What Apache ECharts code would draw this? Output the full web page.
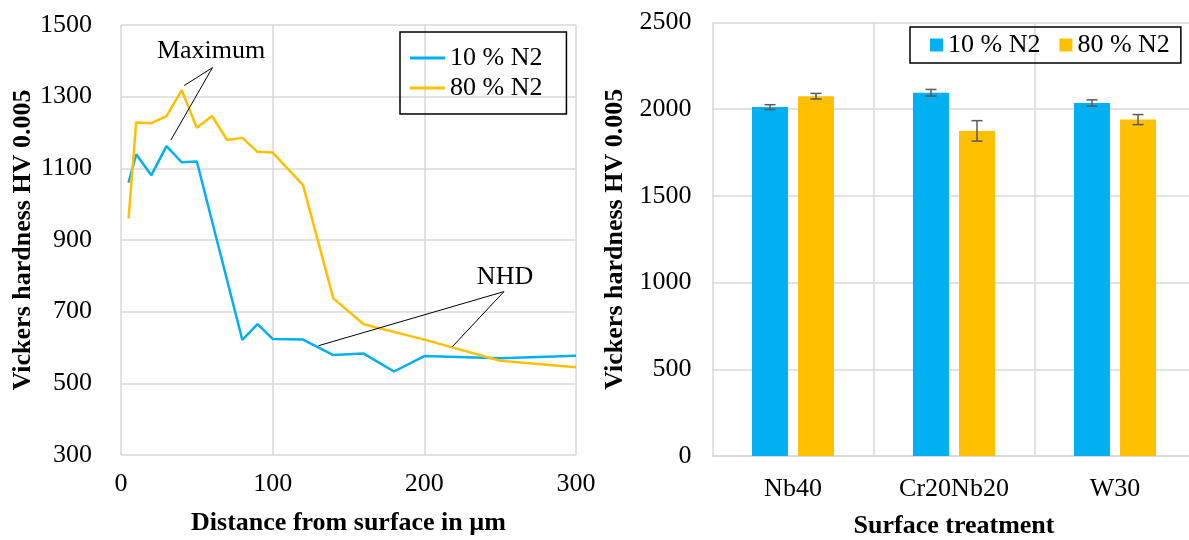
<!DOCTYPE html>
<html>
<head>
<meta charset="utf-8">
<script src="https://cdn.jsdelivr.net/npm/echarts@6/dist/echarts.min.js"></script>
<style>
  html, body { margin: 0; padding: 0; background: #fff; }
  #box { width: 1189px; height: 540px; }
</style>
</head>
<body>
<div id="box"></div>
<script>
// depth profile (left)
const blueDepth = [5, 10, 20, 30, 40, 50, 80, 90, 100, 120, 140, 160, 180, 200, 250, 300];
const blueHV = [1060, 1139, 1081, 1162, 1117, 1119, 621, 665, 624, 622, 579, 583, 533, 576, 570, 577];
const orangeDepth = [5, 10, 20, 30, 40, 50, 60, 70, 80, 90, 100, 120, 140, 160, 200, 250, 300];
const orangeHV = [960, 1228, 1226, 1246, 1318, 1213, 1246, 1179, 1185, 1146, 1144, 1053, 737, 665, 622, 563, 545];

// annotations (data coordinates)
const maxLabel = [59.4, 1426];
const maxLines = [[[60.3, 1381], [41.7, 1331]], [[60.3, 1381], [32.9, 1179]]];
const nhdLabel = [253.2, 795];
const nhdLines = [[[252.5, 756], [130.2, 605]], [[252.5, 756], [218.4, 602]]];

// surface treatment (right)
const treatments = ['Nb40', 'Cr20Nb20', 'W30'];
const hv10 = [2012, 2095, 2036];
const err10 = [14, 19, 18];
const hv80 = [2075, 1875, 1940];
const err80 = [16, 59, 29];

const seriesNames = ['10 % N2', '80 % N2'];

const BLUE = '#00B0F0';
const ORANGE = '#FFC000';
const GRID = '#d9d9d9';
const FONT = 'Liberation Serif';

const myChart = echarts.init(document.getElementById('box'));

const toPairs = (xs, ys) => xs.map((x, i) => [x, ys[i]]);
const lineSeg = (segs) => segs.map(s => [{ coord: s[0] }, { coord: s[1] }]);

const errorSeries = (vals, errs, offset) => ({
    type: 'custom',
    xAxisIndex: 1,
    yAxisIndex: 1,
    z: 5,
    silent: true,
    data: vals.map((v, i) => [i, v, errs[i]]),
    renderItem: function (params, api) {
        const i = api.value(0);
        const v = api.value(1);
        const e = api.value(2);
        const hi = api.coord([i, v + e]);
        const lo = api.coord([i, v - e]);
        const x = hi[0] + offset;
        const st = { stroke: '#595959', lineWidth: 1.5 };
        return {
            type: 'group',
            children: [
                { type: 'line', shape: { x1: x, y1: hi[1], x2: x, y2: lo[1] }, style: st },
                { type: 'line', shape: { x1: x - 5.5, y1: hi[1], x2: x + 5.5, y2: hi[1] }, style: st },
                { type: 'line', shape: { x1: x - 5.5, y1: lo[1], x2: x + 5.5, y2: lo[1] }, style: st }
            ]
        };
    }
});

const axisName = { fontFamily: FONT, fontSize: 26, fontWeight: 'bold', color: '#000' };
const tickText = { fontFamily: FONT, fontSize: 26, color: '#000' };
const plain = (v) => String(v);
const noteLabel = { show: true, position: 'inside', formatter: '{b}', fontFamily: FONT, fontSize: 26, color: '#000' };

const option = {
    animation: false,
    grid: [
        { left: 121, top: 25, width: 455, height: 430, outerBoundsMode: 'none', containLabel: false },
        { left: 712.5, top: 22.5, width: 483, height: 433.5, outerBoundsMode: 'none', containLabel: false }
    ],
    legend: [
        {
            data: seriesNames,
            orient: 'vertical',
            left: 400,
            top: 32,
            padding: [11, 24, 11, 10],
            itemGap: 0,
            itemWidth: 35,
            itemHeight: 3,
            itemTextGap: 12,
            icon: 'rect',
            borderColor: '#000',
            borderWidth: 1.5,
            selectedMode: false,
            textStyle: { fontFamily: FONT, fontSize: 26, lineHeight: 30, color: '#000' }
        },
        {
            data: seriesNames,
            orient: 'horizontal',
            left: 910,
            top: 27,
            padding: [5, 11, 5, 20],
            itemGap: 19,
            itemWidth: 13,
            itemHeight: 13,
            itemTextGap: 8,
            icon: 'rect',
            borderColor: '#000',
            borderWidth: 1.5,
            selectedMode: false,
            textStyle: { fontFamily: FONT, fontSize: 26, lineHeight: 26, color: '#000' }
        }
    ],
    xAxis: [
        {
            type: 'value',
            gridIndex: 0,
            min: 0,
            max: 300,
            interval: 100,
            name: 'Distance from surface in µm',
            nameLocation: 'middle',
            nameGap: 55,
            nameTextStyle: axisName,
            axisLine: { show: false },
            axisTick: { show: false },
            axisLabel: Object.assign({ margin: 16, formatter: plain }, tickText),
            splitLine: { show: true, lineStyle: { color: GRID, width: 1.5 } }
        },
        {
            type: 'category',
            gridIndex: 1,
            data: treatments,
            name: 'Surface treatment',
            nameLocation: 'middle',
            nameGap: 57,
            nameTextStyle: axisName,
            axisLine: { show: true, lineStyle: { color: GRID, width: 1.5 } },
            axisTick: { show: false },
            axisLabel: Object.assign({ margin: 20 }, tickText),
            splitLine: { show: true, lineStyle: { color: GRID, width: 1.5 } }
        }
    ],
    yAxis: [
        {
            type: 'value',
            gridIndex: 0,
            min: 300,
            max: 1500,
            interval: 200,
            name: 'Vickers hardness HV 0.005',
            nameLocation: 'middle',
            nameGap: 84,
            nameTextStyle: axisName,
            axisLine: { show: false },
            axisTick: { show: false },
            axisLabel: Object.assign({ margin: 29, formatter: plain }, tickText),
            splitLine: { show: true, lineStyle: { color: GRID, width: 1.5 } }
        },
        {
            type: 'value',
            gridIndex: 1,
            min: 0,
            max: 2500,
            interval: 500,
            name: 'Vickers hardness HV 0.005',
            nameLocation: 'middle',
            nameGap: 84,
            nameTextStyle: axisName,
            axisLine: { show: false },
            axisTick: { show: false },
            axisLabel: Object.assign({ margin: 21, formatter: plain }, tickText),
            splitLine: { show: true, lineStyle: { color: GRID, width: 1.5 } }
        }
    ],
    series: [
        {
            name: seriesNames[0],
            type: 'line',
            xAxisIndex: 0,
            yAxisIndex: 0,
            data: toPairs(blueDepth, blueHV),
            showSymbol: false,
            color: BLUE,
            lineStyle: { width: 2.5, color: BLUE },
            markLine: {
                silent: true,
                symbol: ['none', 'none'],
                label: { show: false },
                lineStyle: { color: '#000', width: 1, type: 'solid' },
                data: lineSeg(maxLines).concat(lineSeg(nhdLines))
            },
            markPoint: {
                silent: true,
                symbolSize: 0,
                label: noteLabel,
                data: [
                    { name: 'Maximum', coord: maxLabel },
                    { name: 'NHD', coord: nhdLabel }
                ]
            }
        },
        {
            name: seriesNames[1],
            type: 'line',
            xAxisIndex: 0,
            yAxisIndex: 0,
            data: toPairs(orangeDepth, orangeHV),
            showSymbol: false,
            color: ORANGE,
            lineStyle: { width: 2.5, color: ORANGE }
        },
        {
            name: seriesNames[0],
            type: 'bar',
            xAxisIndex: 1,
            yAxisIndex: 1,
            data: hv10,
            color: BLUE,
            barWidth: 36,
            barGap: '28%'
        },
        {
            name: seriesNames[1],
            type: 'bar',
            xAxisIndex: 1,
            yAxisIndex: 1,
            data: hv80,
            color: ORANGE,
            barWidth: 36,
            barGap: '28%'
        },
        errorSeries(hv10, err10, -23),
        errorSeries(hv80, err80, 23)
    ]
};
myChart.setOption(option);
</script>
</body>
</html>
